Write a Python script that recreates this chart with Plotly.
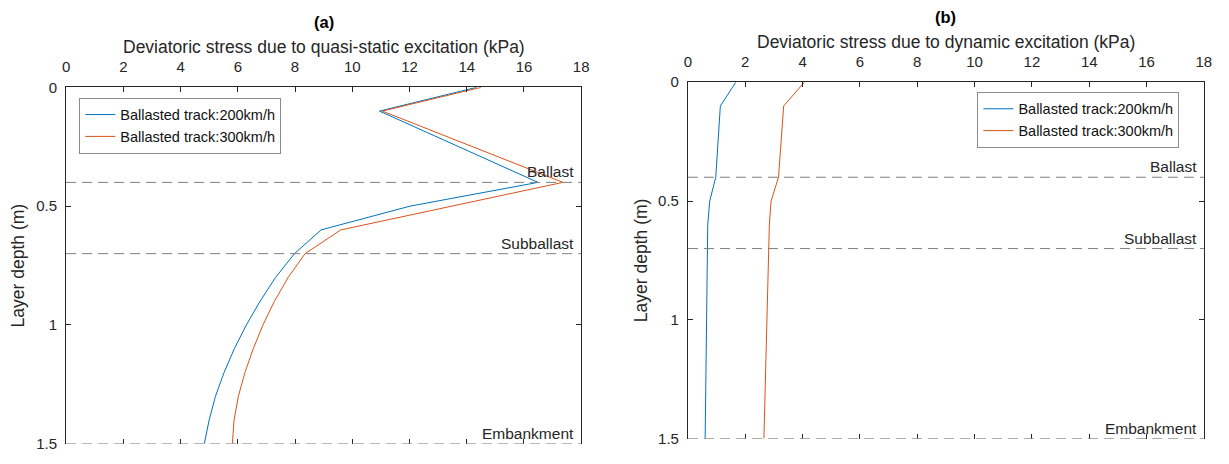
import plotly.graph_objects as go

# Layer depth (m) at which stresses are reported
depth = [0, 0.1, 0.4, 0.5, 0.6, 0.7, 0.8, 0.9, 1.0, 1.1, 1.2, 1.3, 1.4, 1.5]

# (a) quasi-static deviatoric stress (kPa)
qs_200 = [14.35, 10.95, 16.49, 12.02, 8.91, 7.98, 7.32, 6.78, 6.30, 5.88, 5.52, 5.22, 5.00, 4.83]
qs_300 = [14.50, 11.05, 17.36, 13.45, 9.60, 8.35, 7.76, 7.28, 6.88, 6.54, 6.25, 6.02, 5.87, 5.81]

# (b) dynamic deviatoric stress (kPa)
dyn_200 = [1.67, 1.13, 0.97, 0.76, 0.69, 0.68, 0.67, 0.66, 0.65, 0.64, 0.63, 0.62, 0.61, 0.60]
dyn_300 = [4.06, 3.34, 3.16, 2.90, 2.84, 2.82, 2.80, 2.78, 2.76, 2.74, 2.72, 2.70, 2.67, 2.65]

series_names = ["Ballasted track:200km/h", "Ballasted track:300km/h"]
layer_names = ["Ballast", "Subballast", "Embankment"]
layer_bottoms = [0.4, 0.7, 1.5]
x_ticks = list(range(0, 19, 2))
y_ticks = [0, 0.5, 1, 1.5]
y_tick_text = ["0", "0.5", "1", "1.5"]

BLUE = "#0072BD"
ORANGE = "#D95319"
AX = "#262626"
FONT = "Liberation Sans, Arial, sans-serif"

W, H = 1229, 464
# plot-area pixel boxes (left, right, top, bottom)
box_a = (62.7, 582.9, 81.3, 451.3)
box_b = (690.7, 1211.7, 76.0, 446.0)


def dom(box):
    l, r, t, b = box
    return [l / W, r / W], [1 - b / H, 1 - t / H]


fig = go.Figure()

fig.add_trace(go.Scatter(x=qs_200, y=depth, mode="lines", name=series_names[0],
                         line=dict(color=BLUE, width=1), xaxis="x", yaxis="y", legend="legend"))
fig.add_trace(go.Scatter(x=qs_300, y=depth, mode="lines", name=series_names[1],
                         line=dict(color=ORANGE, width=1), xaxis="x", yaxis="y", legend="legend"))
fig.add_trace(go.Scatter(x=dyn_200, y=depth, mode="lines", name=series_names[0],
                         line=dict(color=BLUE, width=1), xaxis="x2", yaxis="y2", legend="legend2"))
fig.add_trace(go.Scatter(x=dyn_300, y=depth, mode="lines", name=series_names[1],
                         line=dict(color=ORANGE, width=1), xaxis="x2", yaxis="y2", legend="legend2"))

xa_dom, ya_dom = dom(box_a)
xb_dom, yb_dom = dom(box_b)

xaxis_common = dict(range=[0, 18], tickvals=x_ticks, side="top", ticks="inside", ticklen=5,
                    tickcolor=AX, showline=True, linecolor=AX, linewidth=1, mirror=False,
                    showgrid=False, zeroline=False, ticklabelstandoff=8,
                    tickfont=dict(size=15, color=AX, family=FONT))
yaxis_common = dict(range=[1.5, 0], tickvals=y_ticks, ticktext=y_tick_text, ticks="inside", ticklen=5,
                    tickcolor=AX, showline=True, linecolor=AX, linewidth=1, mirror="ticks",
                    showgrid=False, zeroline=False, ticklabelstandoff=5,
                    tickfont=dict(size=15, color=AX, family=FONT))
# bottom tick marks without a solid frame line
xbottom_common = dict(range=[0, 18], tickvals=x_ticks, side="bottom", ticks="inside", ticklen=5,
                      tickcolor=AX, showline=False, showticklabels=False, showgrid=False, zeroline=False)

legend_common = dict(bgcolor="white", bordercolor="#8c8c8c", borderwidth=1,
                     font=dict(size=14.5, color="#111", family=FONT), xanchor="left", yanchor="top",
                     tracegroupgap=0, itemwidth=30)

fig.update_layout(
    width=W, height=H, margin=dict(l=0, r=0, t=0, b=0),
    paper_bgcolor="white", plot_bgcolor="white",
    font=dict(family=FONT, color=AX),
    xaxis=dict(domain=xa_dom, anchor="y", **xaxis_common),
    yaxis=dict(domain=ya_dom, anchor="x", **yaxis_common),
    xaxis2=dict(domain=xb_dom, anchor="y2", **xaxis_common),
    yaxis2=dict(domain=yb_dom, anchor="x2", **yaxis_common),
    xaxis3=dict(overlaying="x", anchor="y", **xbottom_common),
    xaxis4=dict(overlaying="x2", anchor="y2", **xbottom_common),
    legend=dict(x=76 / W, y=1 - 92 / H, **legend_common),
    legend2=dict(x=983 / W, y=1 - 86 / H, **legend_common),
)

# invisible traces so the bottom tick axes are rendered
fig.add_trace(go.Scatter(x=[0], y=[1.5], xaxis="x3", yaxis="y", mode="markers",
                         marker=dict(opacity=0), showlegend=False, hoverinfo="skip"))
fig.add_trace(go.Scatter(x=[0], y=[1.5], xaxis="x4", yaxis="y2", mode="markers",
                         marker=dict(opacity=0), showlegend=False, hoverinfo="skip"))

# layer boundaries and their labels
for xr, yr in (("x", "y"), ("x2", "y2")):
    for name, d in zip(layer_names, layer_bottoms):
        fig.add_shape(type="line", xref=f"{xr} domain", yref=yr, x0=0, x1=1, y0=d, y1=d,
                      line=dict(color="#7f7f7f", width=1, dash="10px,6px"))
        fig.add_annotation(xref=f"{xr} domain", yref=yr, x=1, y=d, text=name, showarrow=False,
                           xanchor="right", yanchor="bottom", xshift=-5, yshift=0,
                           font=dict(size=15.5, color=AX, family=FONT))

# panel titles and axis titles
titles = [
    ("(a)", box_a, "Deviatoric stress due to quasi-static excitation (kPa)", 14),
    ("(b)", box_b, "Deviatoric stress due to dynamic excitation (kPa)", 644),
]
for tag, (l, r, t, b), xtitle, ytx in titles:
    cx = (l + r) / 2 / W
    fig.add_annotation(xref="paper", yref="paper", x=cx, y=1 - (t - 68) / H, text=f"<b>{tag}</b>",
                       showarrow=False, xanchor="center", yanchor="middle",
                       font=dict(size=16.5, color="#000", family=FONT))
    fig.add_annotation(xref="paper", yref="paper", x=cx, y=1 - (t - 42) / H, text=xtitle,
                       showarrow=False, xanchor="center", yanchor="middle",
                       font=dict(size=17.5, color=AX, family=FONT))
    fig.add_annotation(xref="paper", yref="paper", x=ytx / W, y=1 - (t + b) / 2 / H,
                       text="Layer depth (m)", textangle=-90, showarrow=False,
                       xanchor="center", yanchor="middle",
                       font=dict(size=17.5, color=AX, family=FONT))

fig.write_html("out.html")
